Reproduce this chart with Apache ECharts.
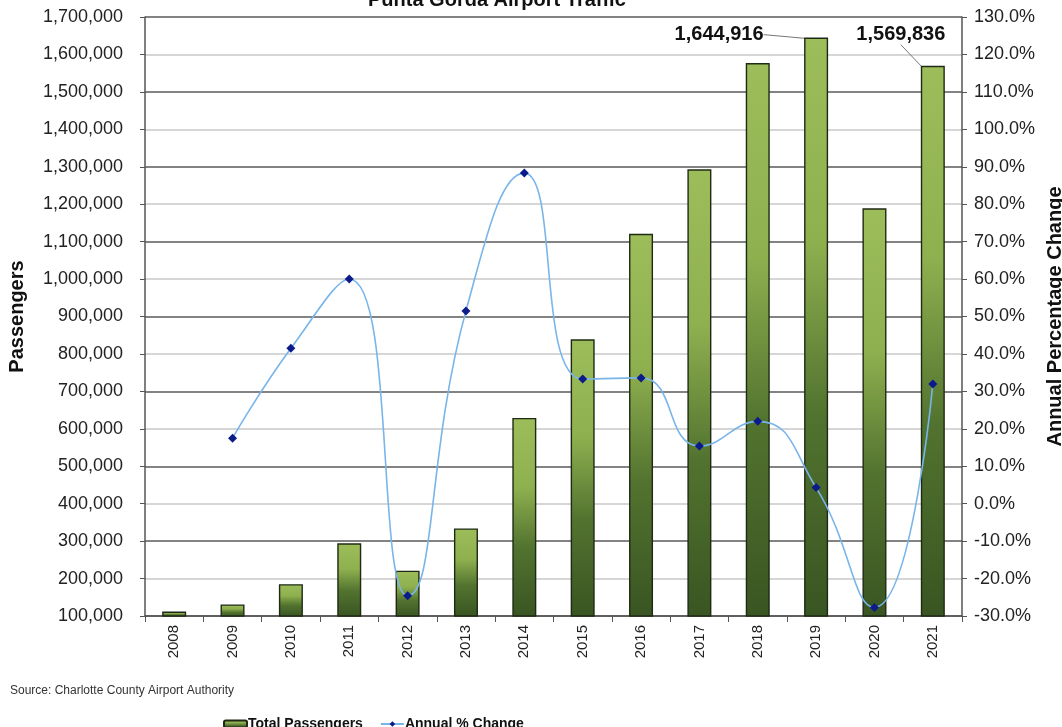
<!DOCTYPE html>
<html>
<head>
<meta charset="utf-8">
<title>Punta Gorda Airport Traffic</title>
<script src="https://cdn.jsdelivr.net/npm/echarts@6/dist/echarts.min.js"></script>
<style>
  html, body { margin: 0; padding: 0; background: #ffffff; }
  #chart { width: 1062px; height: 727px; }
</style>
</head>
<body>
<div id="chart"></div>
<script>
// Passenger traffic by year
const years = ['2008', '2009', '2010', '2011', '2012', '2013', '2014',
               '2015', '2016', '2017', '2018', '2019', '2020', '2021'];
const totalPassengers = [112000, 131000, 185000, 294000, 221000, 334000, 629000,
                         839000, 1121000, 1293000, 1577000, 1644916, 1189000, 1569836];
// Year-over-year change in percent (no prior year for 2008)
const annualChange = [null, 17.5, 41.5, 60.0, -24.6, 51.5, 88.3,
                      33.3, 33.6, 15.4, 22.0, 4.3, -27.7, 32.0];
// Years whose totals are called out above the bars
const calloutYears = ['2019', '2021'];

// Axis ranges
const passengerAxis = { min: 100000, max: 1700000, interval: 100000 };
const percentAxis = { min: -30, max: 130, interval: 10 };

const AXIS_FONT = '"Liberation Sans", Arial, sans-serif';

const barData = totalPassengers.map((v, i) =>
  calloutYears.includes(years[i]) ? { value: v, label: { show: true } } : v);

const fmtThousands = v => Math.round(v).toLocaleString('en-US');

const chart = echarts.init(document.getElementById('chart'), null, { renderer: 'canvas' });

chart.setOption({
  animation: false,
  backgroundColor: '#ffffff',
  title: {
    text: 'Punta Gorda Airport Traffic',
    left: 363,
    top: -15,
    textStyle: { fontFamily: AXIS_FONT, fontSize: 20, fontWeight: 'bold', color: '#111' }
  },
  grid: { left: 145, right: 100, top: 17, bottom: 111, containLabel: false, outerBoundsMode: 'none' },
  legend: {
    left: 218,
    top: 712,
    itemWidth: 23,
    itemHeight: 7,
    itemGap: 17,
    textStyle: { fontFamily: AXIS_FONT, fontSize: 14, fontWeight: 'bold', color: '#111', padding: [0, 0, 0, -4] },
    data: ['Total Passengers', 'Annual % Change']
  },
  xAxis: {
    type: 'category',
    data: years,
    axisLine: { onZero: false, lineStyle: { color: '#555', width: 1.5 } },
    axisTick: { show: true, length: 6, lineStyle: { color: '#555' } },
    axisLabel: {
      rotate: 90,
      margin: 9,
      fontFamily: AXIS_FONT,
      fontSize: 15,
      color: '#222'
    },
    splitLine: { show: false }
  },
  yAxis: [
    {
      type: 'value',
      position: 'left',
      min: passengerAxis.min,
      max: passengerAxis.max,
      interval: passengerAxis.interval,
      name: 'Passengers',
      nameLocation: 'middle',
      nameRotate: 90,
      nameGap: 118,
      nameTextStyle: { fontFamily: AXIS_FONT, fontSize: 20, fontWeight: 'bold', color: '#111' },
      axisLine: { show: true, onZero: false, lineStyle: { color: '#555', width: 1.5 } },
      axisTick: { show: true, length: 5, lineStyle: { color: '#555' } },
      axisLabel: {
        margin: 22,
        fontFamily: AXIS_FONT,
        fontSize: 18,
        color: '#222',
        formatter: fmtThousands
      },
      splitLine: {
        show: true,
        lineStyle: { color: ['#5a5a5a', '#c8c8c8'], width: 1.5 }
      }
    },
    {
      type: 'value',
      position: 'right',
      min: percentAxis.min,
      max: percentAxis.max,
      interval: percentAxis.interval,
      name: 'Annual Percentage Change',
      nameLocation: 'middle',
      nameRotate: 90,
      nameGap: 80,
      nameTextStyle: { fontFamily: AXIS_FONT, fontSize: 20, fontWeight: 'bold', color: '#111' },
      axisLine: { show: true, onZero: false, lineStyle: { color: '#555', width: 1.5 } },
      axisTick: { show: true, length: 5, lineStyle: { color: '#555' } },
      axisLabel: {
        margin: 12,
        fontFamily: AXIS_FONT,
        fontSize: 18,
        color: '#222',
        formatter: v => v.toFixed(1) + '%'
      },
      splitLine: { show: false }
    }
  ],
  series: [
    {
      name: 'Total Passengers',
      type: 'bar',
      yAxisIndex: 0,
      barWidth: 24,
      data: barData,
      itemStyle: {
        color: {
          type: 'linear', x: 0, y: 0, x2: 0, y2: 1,
          colorStops: [
            { offset: 0, color: '#9dbd5b' },
            { offset: 0.35, color: '#8fb04f' },
            { offset: 0.65, color: '#52732f' },
            { offset: 1, color: '#395522' }
          ]
        },
        borderColor: '#1f2a14',
        borderWidth: 1.4
      },
      label: {
        show: false,
        position: 'top',
        fontFamily: AXIS_FONT,
        fontSize: 20,
        fontWeight: 'bold',
        color: '#111',
        formatter: p => fmtThousands(p.value)
      },
      labelLine: { show: true, lineStyle: { color: '#777', width: 1 } },
      labelLayout: function (p) {
        const y = years[p.dataIndex];
        if (y === '2019') return { dx: -97, dy: 12 };
        if (y === '2021') return { dx: -32, dy: -16 };
        return {};
      },
      z: 2
    },
    {
      name: 'Annual % Change',
      type: 'line',
      yAxisIndex: 1,
      data: annualChange,
      smooth: 0.5,
      connectNulls: false,
      symbol: 'diamond',
      symbolSize: 9,
      showSymbol: true,
      lineStyle: { color: '#78b5ea', width: 1.6 },
      itemStyle: { color: '#0b1c8a', borderColor: '#0b1c8a', borderWidth: 0 },
      z: 3
    }
  ],
  graphic: [
    {
      type: 'text',
      left: 10,
      top: 685,
      style: {
        text: 'Source: Charlotte County Airport Authority',
        font: '12px "Liberation Sans", Arial, sans-serif',
        fill: '#333'
      }
    }
  ]
});
</script>
</body>
</html>
